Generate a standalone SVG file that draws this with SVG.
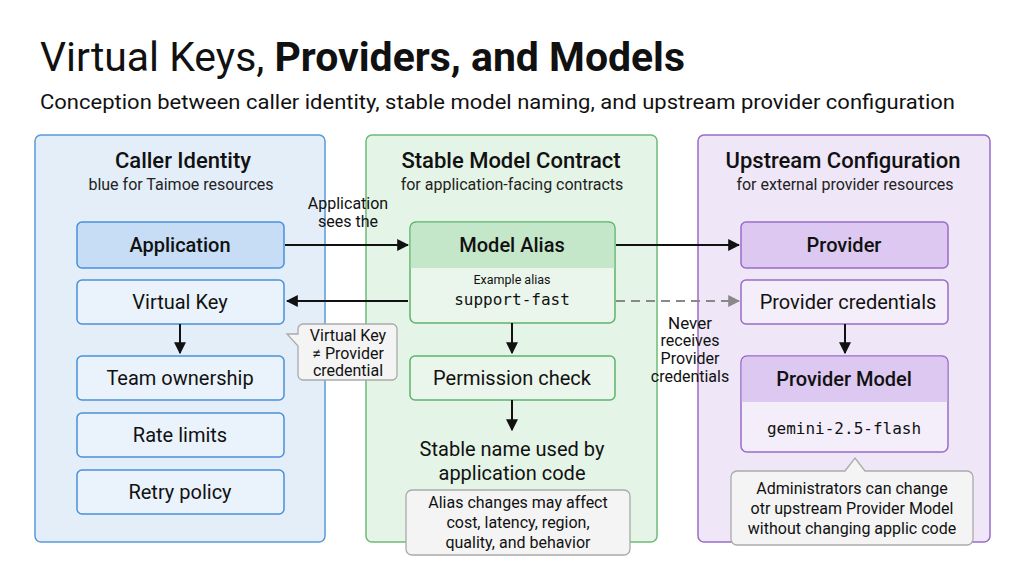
<svg xmlns="http://www.w3.org/2000/svg" width="1024" height="572" viewBox="0 0 1024 572">
<defs>
<style>
text{font-family:Roboto,"Liberation Sans",sans-serif;fill:#111}
.t{font-size:20px;text-anchor:middle}
.h{font-size:22px;font-weight:500;text-anchor:middle}
.s{font-size:16px;text-anchor:middle;fill:#222}
.m{font-family:"DejaVu Sans Mono","Liberation Mono",monospace;font-size:16px;text-anchor:middle}
.c{font-size:16px;text-anchor:middle}
.bn{fill:#eaf3fc;stroke:#4a90d9;stroke-width:1.5}
.gn{fill:#eaf6ec;stroke:#5cb46a;stroke-width:1.5}
.pn{fill:#f4eefa;stroke:#9a6cc8;stroke-width:1.5}
.cl{fill:#f4f4f4;stroke:#aaa;stroke-width:1.3}
.a{stroke:#111;stroke-width:2;fill:none;marker-end:url(#ar)}
</style>
<marker id="ar" viewBox="0 0 10 10" refX="9" refY="5" markerWidth="6" markerHeight="6" orient="auto"><path d="M0,0L10,5L0,10z" fill="#111"/></marker>
<marker id="ag" viewBox="0 0 10 10" refX="9" refY="5" markerWidth="6" markerHeight="6" orient="auto"><path d="M0,0L10,5L0,10z" fill="#888"/></marker>
</defs>
<rect width="1024" height="572" fill="#fff"/>
<text x="40" y="71" style="font-size:40px" textLength="645" lengthAdjust="spacingAndGlyphs"><tspan>Virtual Keys, </tspan><tspan font-weight="bold">Providers, and Models</tspan></text>
<text x="40" y="109" style="font-size:20px" textLength="915" lengthAdjust="spacingAndGlyphs">Conception between caller identity, stable model naming, and upstream provider configuration</text>

<g id="panel-caller">
<rect x="35" y="135" width="290" height="407" rx="6" fill="#e3eef9" stroke="#5a9ad6" stroke-width="1.5"/>
<text class="h" x="183" y="168">Caller Identity</text>
<text class="s" x="181" y="190">blue for Taimoe resources</text>
</g>
<g id="panel-contract">
<rect x="366" y="135" width="291" height="407" rx="6" fill="#e4f4e6" stroke="#6cbb78" stroke-width="1.5"/>
<text class="h" x="511" y="168">Stable Model Contract</text>
<text class="s" x="512" y="190">for application-facing contracts</text>
</g>
<g id="panel-upstream">
<rect x="698" y="135" width="292" height="407" rx="6" fill="#efe6f8" stroke="#9a6cc8" stroke-width="1.5"/>
<text class="h" x="843" y="168">Upstream Configuration</text>
<text class="s" x="845" y="190">for external provider resources</text>
</g>

<g id="application"><rect class="bn" x="77" y="222" width="207" height="46" rx="5" style="fill:#c6ddf5"/><text class="t" x="180" y="252" font-weight="500">Application</text></g>
<g id="virtual-key"><rect class="bn" x="77" y="280" width="207" height="44" rx="5"/><text class="t" x="180" y="309">Virtual Key</text></g>
<g id="team"><rect class="bn" x="77" y="356" width="207" height="44" rx="5"/><text class="t" x="180" y="385">Team ownership</text></g>
<g id="rate"><rect class="bn" x="77" y="413" width="207" height="44" rx="5"/><text class="t" x="180" y="442">Rate limits</text></g>
<g id="retry"><rect class="bn" x="77" y="470" width="207" height="44" rx="5"/><text class="t" x="180" y="499">Retry policy</text></g>
<g id="vk-note"><path class="cl" d="M303,324H392a5,5 0 0 1 5,5V375a5,5 0 0 1-5,5H303a5,5 0 0 1-5-5V346L287,334L298,334V329a5,5 0 0 1 5-5z"/>
<text class="c" x="348" y="341">Virtual Key</text><text class="c" x="348" y="359">≠ Provider</text><text class="c" x="348" y="376">credential</text></g>

<g id="model-alias"><rect class="gn" x="410" y="222" width="205" height="101" rx="6"/><path d="M410.75,268V228a5.25,5.25 0 0 1 5.25-5.25H609a5.25,5.25 0 0 1 5.25,5.25V268z" fill="#c4e6c9"/>
<text class="t" x="512" y="252" font-weight="500">Model Alias</text><text x="512" y="284" style="font-size:12.5px;text-anchor:middle">Example alias</text><text class="m" x="512" y="305">support-fast</text></g>
<g id="permission"><rect class="gn" x="410" y="356" width="205" height="44" rx="5"/><text class="t" x="512" y="385">Permission check</text></g>
<g id="stable-name"><text class="t" x="512" y="456">Stable name used by</text><text class="t" x="512" y="480">application code</text></g>
<g id="alias-note"><rect class="cl" x="406" y="490" width="224" height="65" rx="6"/>
<text class="c" x="518" y="508">Alias changes may affect</text><text class="c" x="518" y="528">cost, latency, region,</text><text class="c" x="518" y="548">quality, and behavior</text></g>

<g id="provider"><rect class="pn" x="741" y="222" width="207" height="46" rx="5" style="fill:#dcc8f0"/><text class="t" x="844" y="252" font-weight="500">Provider</text></g>
<g id="provider-cred"><rect class="pn" x="741" y="280" width="207" height="44" rx="5"/><text class="t" x="848" y="309">Provider credentials</text></g>
<g id="provider-model"><rect class="pn" x="741" y="356" width="207" height="96" rx="6"/><path d="M741.75,402V362a5.25,5.25 0 0 1 5.25-5.25H942a5.25,5.25 0 0 1 5.25,5.25V402z" fill="#dcc8f0"/>
<text class="t" x="844" y="386" font-weight="500">Provider Model</text><text class="m" x="844" y="434">gemini-2.5-flash</text></g>
<g id="admin-note"><path class="cl" d="M737,471H845L855,458L865,471H967a6,6 0 0 1 6,6V539a6,6 0 0 1-6,6H737a6,6 0 0 1-6-6V477a6,6 0 0 1 6-6z"/>
<text class="c" x="852" y="494">Administrators can change</text><text class="c" x="852" y="514">otr upstream Provider Model</text><text class="c" x="852" y="534">without changing applic code</text></g>

<g id="connectors">
<path class="a" d="M285,245H408"/>
<text class="c" x="348" y="209">Application</text><text class="c" x="348" y="227">sees the</text>
<path class="a" d="M616,245H739"/>
<path class="a" d="M408,301H287"/>
<path d="M616,301H739" stroke="#888" stroke-width="2" stroke-dasharray="9,6" fill="none" marker-end="url(#ag)"/>
<text x="690" y="329" style="font-size:17px;text-anchor:middle">Never</text><text class="c" x="690" y="346">receives</text><text class="c" x="690" y="364">Provider</text><text class="c" x="690" y="382">credentials</text>
<path class="a" d="M180,324V353"/>
<path class="a" d="M512,323V353"/>
<path class="a" d="M512,400V430"/>
<path class="a" d="M845,324V353"/>
</g>
</svg>
